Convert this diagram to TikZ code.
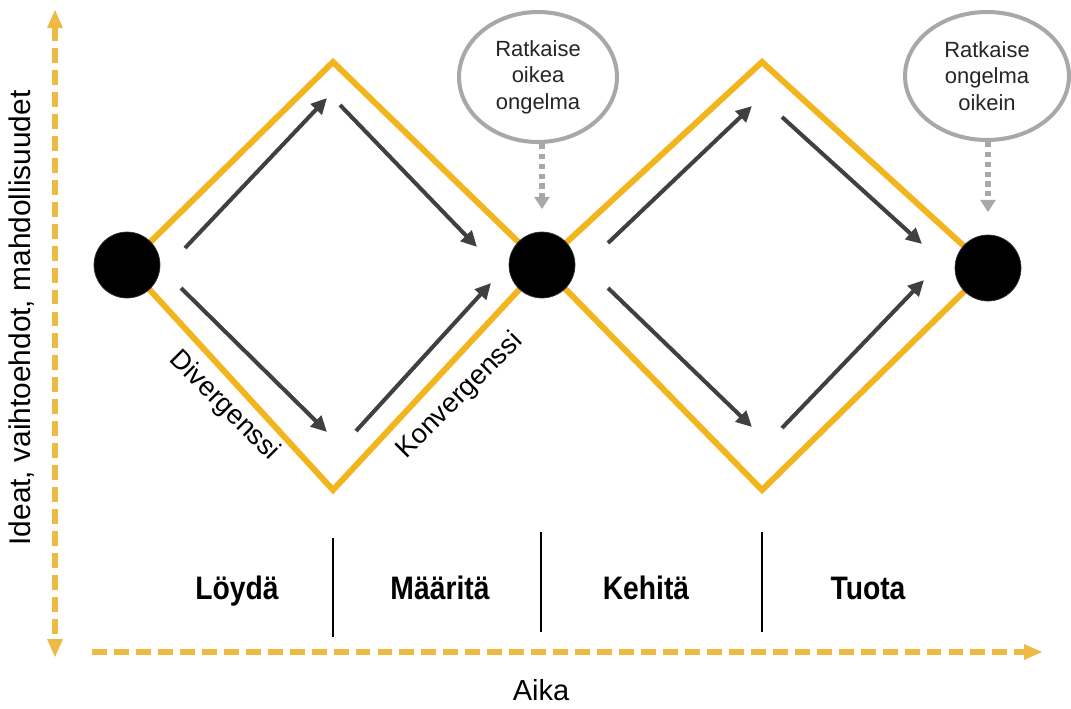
\documentclass[tikz,border=0pt]{standalone}
\usepackage{fontspec}
\setmainfont{Liberation Sans}
\usetikzlibrary{arrows.meta,shapes.geometric}
\definecolor{diamondyellow}{HTML}{F3B51E}
\definecolor{axisyellow}{HTML}{EDBA45}
\definecolor{arrowgray}{HTML}{404040}
\definecolor{bubblegray}{HTML}{A8A8A8}
\definecolor{textgray}{HTML}{262626}
% slightly condensed lettering for the phase names
\newcommand{\condensed}[1]{\scalebox{0.87}[1]{#1}}
\tikzset{
  pathline/.style={draw=diamondyellow, line width=3.4pt, line join=miter},
  flow/.style={draw=arrowgray, line width=2.3pt,
    -{Triangle[length=9pt,width=8.5pt]}},
  axis/.style={draw=axisyellow, line width=3.8pt,
    dash pattern=on 8.5pt off 4pt},
  axishead/.style={fill=axisyellow, draw=none},
  stage/.style={circle, fill=black, draw=black!80, minimum size=1.32cm, inner sep=0pt},
  bubble/.style={ellipse, draw=bubblegray, line width=2.3pt, fill=white,
    inner sep=0pt, align=center, text=textgray,
    font=\fontsize{12.5}{15}\selectfont},
  hint/.style={draw=bubblegray, line width=3pt, dash pattern=on 3pt off 2.6pt,
    -{Triangle[length=7pt,width=8.5pt,sep=2pt]}},
  phase/.style={font=\bfseries\fontsize{18.5}{21}\selectfont, text=black, anchor=base},
  divider/.style={draw=black, line width=1.1pt},
  edgelabel/.style={font=\fontsize{15.5}{19}\selectfont, text=black},
}
\begin{document}
\begin{tikzpicture}[x=0.02cm,y=-0.02cm]
\useasboundingbox (0,0) rectangle (1071,708);
\fill[white] (0,0) rectangle (1071,708);

% centres of the three stage points and the diamond tips
\coordinate (c1) at (127,265);
\coordinate (c2) at (542,265);
\coordinate (c3) at (988,268);
\coordinate (t1) at (333,62);
\coordinate (b1) at (333,490);
\coordinate (t2) at (762,62);
\coordinate (b2) at (762,490);

% the two diamonds
\draw[pathline] (c1) -- (t1) -- (c2) -- (b1) -- cycle;
\draw[pathline] (c2) -- (t2) -- (c3) -- (b2) -- cycle;

% stage points
\node[stage] (d1) at (c1) {};
\node[stage] (d2) at (c2) {};
\node[stage] (d3) at (c3) {};

% flow arrows inside the first diamond
\coordinate (a1s) at (185,248); \coordinate (a1e) at (327,98);
\coordinate (a2s) at (340,105); \coordinate (a2e) at (477,247);
\coordinate (a3s) at (181,288); \coordinate (a3e) at (327,432);
\coordinate (a4s) at (356,431); \coordinate (a4e) at (491,283);
\draw[flow] (a1s) -- (a1e);
\draw[flow] (a2s) -- (a2e);
\draw[flow] (a3s) -- (a3e);
\draw[flow] (a4s) -- (a4e);

% flow arrows inside the second diamond
\coordinate (a5s) at (608,243); \coordinate (a5e) at (752,106);
\coordinate (a6s) at (782,117); \coordinate (a6e) at (922,244);
\coordinate (a7s) at (608,288); \coordinate (a7e) at (752,427);
\coordinate (a8s) at (782,428); \coordinate (a8e) at (924,280);
\draw[flow] (a5s) -- (a5e);
\draw[flow] (a6s) -- (a6e);
\draw[flow] (a7s) -- (a7e);
\draw[flow] (a8s) -- (a8e);

% goal bubbles
\node[bubble, minimum width=3.16cm, minimum height=2.6cm] (e1) at (538,77)
  {Ratkaise\\oikea\\ongelma};
\node[bubble, minimum width=3.28cm, minimum height=2.56cm] (e2) at (987,76)
  {Ratkaise\\ongelma\\oikein};
\draw[hint, shorten >=0.38cm] (e1.south -| d2) -- (d2.north);
\draw[hint, shorten >=0.38cm] (e2.south -| d3) -- (d3.north);

% edge labels
\node[edgelabel, rotate=-45] (div) at (224,406) {Divergenssi};
\node[edgelabel, rotate=45] (kon) at (460,396) {Konvergenssi};

% phases
\coordinate (s1t) at (333,538); \coordinate (s1b) at (333,637);
\coordinate (s2t) at (541,532); \coordinate (s2b) at (541,632);
\coordinate (s3t) at (762,532); \coordinate (s3b) at (762,632);
\draw[divider] (s1t) -- (s1b);
\draw[divider] (s2t) -- (s2b);
\draw[divider] (s3t) -- (s3b);
\node[phase] (p1) at (237,599) {\condensed{Löydä}};
\node[phase] (p2) at (440,599) {\condensed{Määritä}};
\node[phase] (p3) at (646,599) {\condensed{Kehitä}};
\node[phase] (p4) at (868,599) {\condensed{Tuota}};

% axes
\coordinate (ytop) at (55,26);
\coordinate (ybot) at (55,641);
\coordinate (xleft) at (92,652);
\coordinate (xright) at (1026,652);
\draw[axis] (ytop) -- (ybot);
\draw[axis] (xleft) -- (xright);
\fill[axishead] (55,10) -- (47,28) -- (63,28) -- cycle;
\fill[axishead] (55,657) -- (47,639) -- (63,639) -- cycle;
\fill[axishead] (1042,652) -- (1024,644) -- (1024,660) -- cycle;

\node[edgelabel, rotate=90, font=\fontsize{17}{19}\selectfont] (ylab) at (22,318)
  {Ideat, vaihtoehdot, mahdollisuudet};
\node[edgelabel, font=\fontsize{16.5}{19}\selectfont] (xlab) at (541,690) {Aika};
\end{tikzpicture}
\end{document}
